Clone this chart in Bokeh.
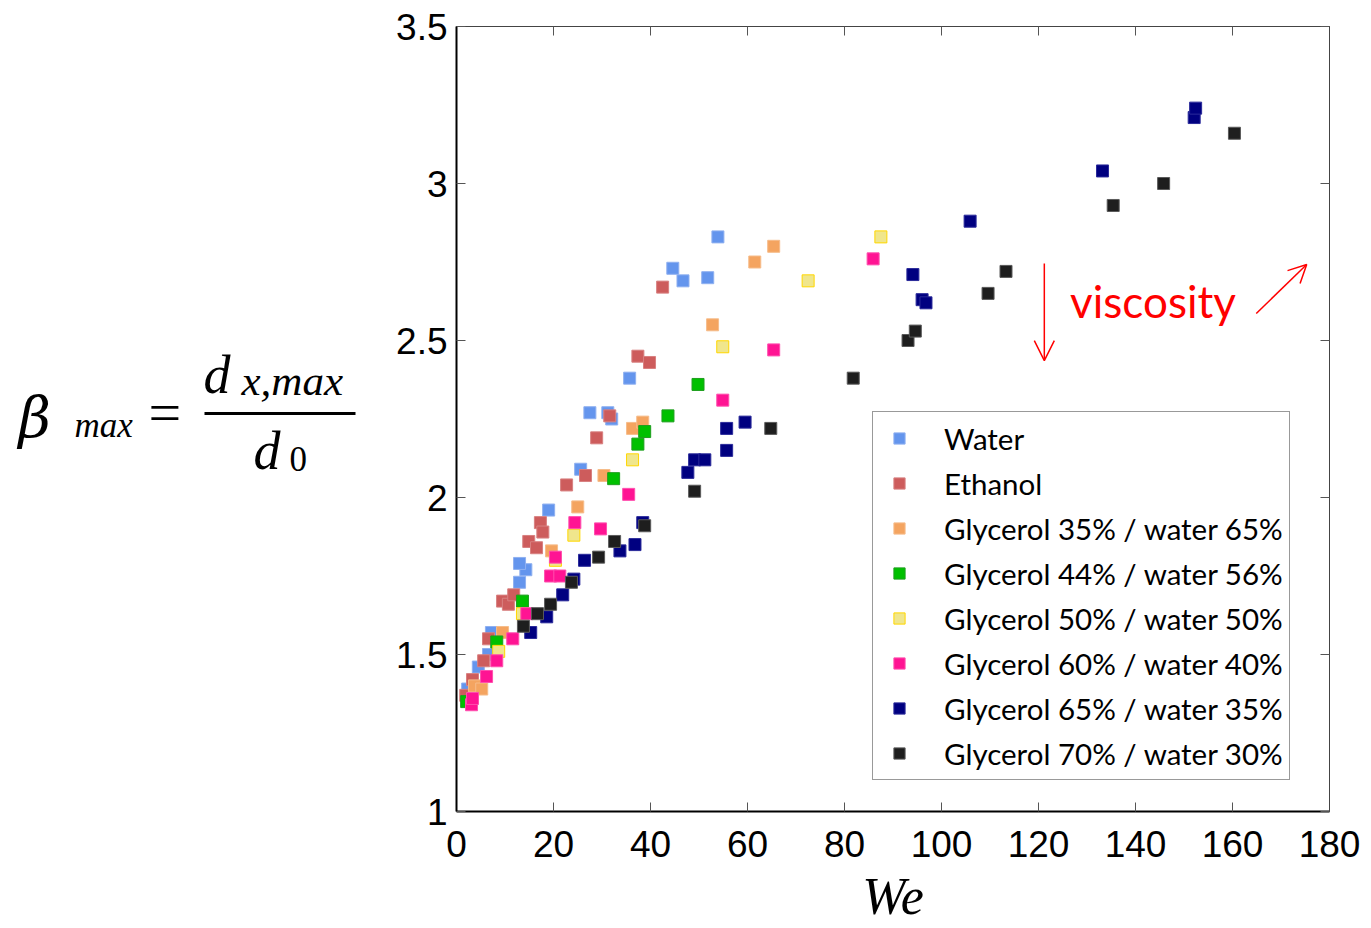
from bokeh.plotting import figure
from bokeh.layouts import row
from bokeh.models import (Range1d, LinearAxis, FixedTicker, NumeralTickFormatter,
                          Legend, LegendItem, Arrow, OpenHead, Label)
from bokeh.core.properties import value
from bokeh.embed import file_html
from bokeh.resources import INLINE

# Maximum spreading factor vs. Weber number for each liquid
water_we = [2.3, 4.5, 6.6, 7.2, 13.0, 14.3, 13.0, 19.0, 25.6, 27.5, 31.2, 32.0, 35.7, 44.6, 46.7, 51.8, 53.9]
water_beta = [1.39, 1.46, 1.50, 1.57, 1.73, 1.77, 1.79, 1.96, 2.09, 2.27, 2.27, 2.25, 2.38, 2.73, 2.69, 2.70, 2.83]

ethanol_we = [1.9, 3.3, 5.6, 6.6, 9.5, 10.7, 11.8, 14.9, 16.5, 17.3, 17.8, 22.7, 26.6, 28.9, 31.6, 37.4, 39.8, 42.5]
ethanol_beta = [1.37, 1.42, 1.48, 1.55, 1.67, 1.66, 1.69, 1.86, 1.84, 1.92, 1.89, 2.04, 2.07, 2.19, 2.26, 2.45, 2.43, 2.67]

g35_we = [3.7, 5.2, 9.5, 19.6, 25.0, 30.4, 36.3, 38.4, 52.8, 61.5, 65.4]
g35_beta = [1.40, 1.39, 1.57, 1.83, 1.97, 2.07, 2.22, 2.24, 2.55, 2.75, 2.80]

g44_we = [2.1, 8.3, 13.6, 32.4, 37.4, 38.8, 43.6, 49.8]
g44_beta = [1.35, 1.54, 1.67, 2.06, 2.17, 2.21, 2.26, 2.36]

g50_we = [8.7, 13.6, 20.4, 24.2, 36.3, 54.9, 72.5, 87.5]
g50_beta = [1.51, 1.63, 1.80, 1.88, 2.12, 2.48, 2.69, 2.83]

g60_we = [3.1, 3.3, 6.2, 8.3, 11.6, 14.5, 19.4, 21.3, 20.4, 24.4, 29.7, 35.5, 54.9, 65.4, 85.9]
g60_beta = [1.34, 1.36, 1.43, 1.48, 1.55, 1.63, 1.75, 1.75, 1.81, 1.92, 1.90, 2.01, 2.31, 2.47, 2.76]

g65_we = [15.3, 18.6, 21.9, 24.2, 26.4, 33.7, 36.8, 38.4, 47.7, 49.1, 51.2, 55.7, 55.7, 59.5,
          94.1, 96.0, 96.8, 105.9, 133.2, 152.1, 152.4]
g65_beta = [1.57, 1.62, 1.69, 1.74, 1.80, 1.83, 1.85, 1.92, 2.08, 2.12, 2.12, 2.15, 2.22, 2.24,
            2.71, 2.63, 2.62, 2.88, 3.04, 3.21, 3.24]

g70_we = [13.8, 16.7, 19.4, 23.7, 29.3, 32.6, 38.8, 49.1, 64.8, 81.8, 93.1, 94.6, 109.6, 113.3, 135.4, 145.8, 160.4]
g70_beta = [1.59, 1.63, 1.66, 1.73, 1.81, 1.86, 1.91, 2.02, 2.22, 2.38, 2.50, 2.53, 2.65, 2.72, 2.93, 3.00, 3.16]

series_names = ["Water", "Ethanol",
                "Glycerol 35% / water 65%", "Glycerol 44% / water 56%",
                "Glycerol 50% / water 50%", "Glycerol 60% / water 40%",
                "Glycerol 65% / water 35%", "Glycerol 70% / water 30%"]
series_x = [water_we, ethanol_we, g35_we, g44_we, g50_we, g60_we, g65_we, g70_we]
series_y = [water_beta, ethanol_beta, g35_beta, g44_beta, g50_beta, g60_beta, g65_beta, g70_beta]
fill_colors = ["#6495ED", "#CD5C5C", "#F4A460", "#00C000", "#F0E68C", "#FF1493", "#000080", "#1E1E1E"]
edge_colors = ["#8FB0F0", "#D88080", "#F6BC8A", "#1E9E1E", "#FFD700", "#FF4FAE", "#2A2A9A", "#5A5A5A"]

x_ticks = [0, 20, 40, 60, 80, 100, 120, 140, 160, 180]
y_ticks = [1, 1.5, 2, 2.5, 3, 3.5]

BORDER_TOP, BORDER_BOTTOM = 26, 117
HEIGHT = 928

# ---- left panel: y-axis title written as a formula ----
# the panel's frame spans the same rows as the main frame; its y range is in page pixels
f = figure(width=370, height=HEIGHT, x_range=Range1d(0, 370),
           y_range=Range1d(HEIGHT - BORDER_BOTTOM, BORDER_TOP),
           x_axis_type=None, y_axis_type=None, output_backend="svg",
           toolbar_location=None, min_border_left=0, min_border_right=0,
           min_border_top=BORDER_TOP, min_border_bottom=BORDER_BOTTOM)
f.grid.visible = False
f.outline_line_color = None


def formula_text(x, y, s, size, italic=True, font="Liberation Serif"):
    f.text(x=[x], y=[y], text=[s], text_font=value(font),
           text_font_style="italic" if italic else "normal",
           text_font_size=size, text_color="black", text_baseline="alphabetic")


formula_text(18, 417, "β", "56px", font="DejaVu Serif")
formula_text(74, 425, "max", "35px")
formula_text(148, 412, "=", "58px", italic=False)
f.segment(x0=[204], y0=[413], x1=[355], y1=[413], line_color="black", line_width=3)
formula_text(203, 374, "d", "54px")
formula_text(241, 380, "x,max", "43px")
formula_text(253, 450, "d", "54px")
formula_text(289, 458, "0", "35px", italic=False)

# ---- main scatter plot ----
p = figure(width=1001, height=HEIGHT, x_range=Range1d(0, 180), y_range=Range1d(1, 3.5),
           output_backend="svg", toolbar_location=None,
           min_border_left=86, min_border_right=42,
           min_border_top=BORDER_TOP, min_border_bottom=BORDER_BOTTOM)
p.grid.visible = False
p.outline_line_color = "#444444"
p.outline_line_width = 1

xa = p.xaxis[0]
xa.ticker = FixedTicker(ticks=x_ticks)
ya = p.yaxis[0]
ya.ticker = FixedTicker(ticks=y_ticks)
ya.formatter = NumeralTickFormatter(format="0.[0]")
for ax in (xa, ya):
    ax.major_label_text_font = "Liberation Sans"
    ax.major_label_text_font_size = "37px"
    ax.major_label_text_color = "black"
    ax.major_tick_in = 9
    ax.major_tick_out = 0
    ax.major_tick_line_color = "#555555"
    ax.minor_tick_line_color = None
    ax.axis_line_color = "black"
    ax.axis_line_width = 2
xa.major_label_standoff = 19
ya.major_label_standoff = 9

xa.axis_label = "We"
xa.axis_label_text_font = "Liberation Serif"
xa.axis_label_text_font_style = "italic"
xa.axis_label_text_font_size = "52px"
xa.axis_label_text_color = "black"
xa.axis_label_text_line_height = 0.75
xa.axis_label_standoff = 8

# inward ticks on the opposite sides, without labels
ra = LinearAxis(ticker=FixedTicker(ticks=y_ticks),
                major_label_overrides={t: "" for t in y_ticks},
                major_tick_in=9, major_tick_out=0, major_tick_line_color="#555555",
                minor_tick_line_color=None, axis_line_color="#444444", major_label_standoff=0)
ta = LinearAxis(ticker=FixedTicker(ticks=x_ticks),
                major_label_overrides={t: "" for t in x_ticks},
                major_tick_in=9, major_tick_out=0, major_tick_line_color="#555555",
                minor_tick_line_color=None, axis_line_color="#444444", major_label_standoff=0)
p.add_layout(ra, "right")
p.add_layout(ta, "above")

items = []
for name, xs, ys, fc, ec in zip(series_names, series_x, series_y, fill_colors, edge_colors):
    r = p.scatter(xs, ys, marker="square", size=12, fill_color=fc, line_color=ec, line_width=1)
    items.append(LegendItem(label=name, renderers=[r]))

legend = Legend(items=items, location=(416, 31), padding=6, spacing=5,
                label_height=40, glyph_height=28, glyph_width=40, label_standoff=25,
                label_text_font="Lato", label_text_font_size="29.5px", label_text_color="black",
                border_line_color="#333333", border_line_width=1, margin=0)
p.add_layout(legend)

# viscosity trend annotation
p.add_layout(Arrow(end=OpenHead(size=20, line_color="red", line_width=1.5),
                   x_start=121.2, y_start=2.745, x_end=121.2, y_end=2.436,
                   line_color="red", line_width=1.5))
p.add_layout(Arrow(end=OpenHead(size=18, line_color="red", line_width=1.5),
                   x_start=164.9, y_start=2.586, x_end=175.3, y_end=2.742,
                   line_color="red", line_width=1.5))
p.add_layout(Label(x=126.5, y=2.625, text="viscosity", text_color="red",
                   text_font="Lato", text_font_size="44px", text_baseline="middle"))

layout = row(f, p, spacing=0)
open("out.html", "w").write(file_html(layout, INLINE))
